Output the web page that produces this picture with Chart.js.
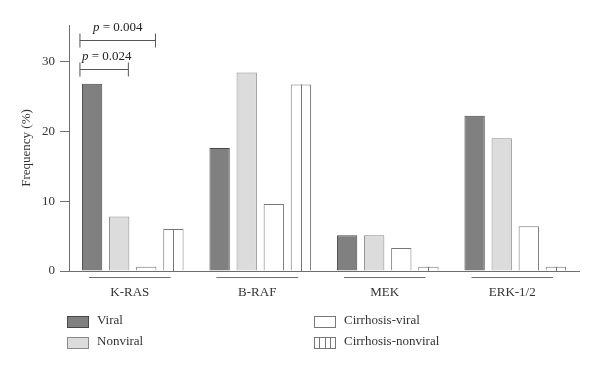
<!DOCTYPE html>
<html>
<head>
<meta charset="utf-8">
<script src="https://cdn.jsdelivr.net/npm/chart.js@4.4.1/dist/chart.umd.min.js"></script>
<style>
  body { margin: 0; background: #fff; }
  #wrap { width: 600px; height: 370px; }
</style>
</head>
<body>
<div id="wrap"><canvas id="chart" width="600" height="370"></canvas></div>
<script>
// the numbers
var categories = ['K-RAS', 'B-RAF', 'MEK', 'ERK-1/2'];
var seriesNames = ['Viral', 'Nonviral', 'Cirrhosis-viral', 'Cirrhosis-nonviral'];
var viral = [26.8, 17.6, 5.1, 22.2];
var nonviral = [7.8, 28.4, 5.1, 19.0];
var cirrhosisViral = [0.6, 9.6, 3.3, 6.4];
var cirrhosisNonviral = [6.0, 26.7, 0.6, 0.6];
var yTicks = [0, 10, 20, 30];
var pValues = ['0.024', '0.004'];
var yTitle = 'Frequency (%)';

var serif = '"Liberation Serif", "DejaVu Serif", serif';
var axisGrey = '#6e6e6e';

var fills = ['#808080', '#dcdcdc', '#ffffff', '#ffffff'];
var borders = ['#484848', '#8a8a8a', '#777777', '#777777'];
var allValues = [viral, nonviral, cirrhosisViral, cirrhosisNonviral];

var theDatasets = [];
for (var i = 0; i < seriesNames.length; i++) {
  theDatasets.push({
    label: seriesNames[i],
    data: allValues[i],
    backgroundColor: fills[i],
    borderColor: borders[i],
    borderWidth: 1,
    categoryPercentage: 0.85,
    barPercentage: 0.75
  });
}

// stripes in the cirrhosis-nonviral bars, underlines, p brackets, legend
var extrasPlugin = {
  id: 'extras',
  afterDatasetsDraw: function (chart) {
    var ctx = chart.ctx;
    var yScale = chart.scales.y;
    var base = yScale.getPixelForValue(0);
    ctx.save();
    ctx.strokeStyle = borders[3];
    ctx.lineWidth = 1;
    chart.getDatasetMeta(3).data.forEach(function (bar) {
      var x = Math.round(bar.x) + 0.5;
      ctx.beginPath();
      ctx.moveTo(x, bar.y);
      ctx.lineTo(x, base);
      ctx.stroke();
    });
    ctx.restore();
  },
  afterDraw: function (chart) {
    var ctx = chart.ctx;
    var xScale = chart.scales.x;
    var yScale = chart.scales.y;
    var area = chart.chartArea;
    ctx.save();

    // y axis title
    ctx.save();
    ctx.translate(27, (area.top + area.bottom) / 2);
    ctx.rotate(-Math.PI / 2);
    ctx.font = '13px ' + serif;
    ctx.fillStyle = '#333';
    ctx.textAlign = 'center';
    ctx.textBaseline = 'middle';
    ctx.fillText(yTitle, 0, 0);
    ctx.restore();

    // line under each group
    ctx.strokeStyle = axisGrey;
    ctx.lineWidth = 1;
    var catW = (area.right - area.left) / categories.length;
    for (var c = 0; c < categories.length; c++) {
      var cx = xScale.getPixelForValue(c) - 3;
      ctx.beginPath();
      ctx.moveTo(cx - catW * 0.32, 277.5);
      ctx.lineTo(cx + catW * 0.32, 277.5);
      ctx.stroke();
    }

    // p value brackets on K-RAS
    var first = chart.getDatasetMeta(0).data[0];
    var left = first.x - first.width / 2 - 2;
    var ends = [chart.getDatasetMeta(1).data[0], chart.getDatasetMeta(2).data[0]];
    var levels = [28.9, 33.0];
    for (var b = 0; b < 2; b++) {
      var right = ends[b].x + ends[b].width / 2 - 1;
      var y = Math.round(yScale.getPixelForValue(levels[b])) + 0.5;
      ctx.strokeStyle = '#555';
      ctx.beginPath();
      ctx.moveTo(left, y);
      ctx.lineTo(right, y);
      ctx.moveTo(left, y - 7);
      ctx.lineTo(left, y + 7);
      ctx.moveTo(right, y - 7);
      ctx.lineTo(right, y + 7);
      ctx.stroke();

      ctx.fillStyle = '#222';
      ctx.textBaseline = 'alphabetic';
      ctx.font = 'italic 13px ' + serif;
      var pw = ctx.measureText('p').width;
      ctx.font = '13px ' + serif;
      var rest = ' = ' + pValues[b];
      var rw = ctx.measureText(rest).width;
      var tx = (left + right) / 2 - (pw + rw) / 2;
      if (b === 0) tx = left + 2;
      ctx.font = 'italic 13px ' + serif;
      ctx.textAlign = 'left';
      ctx.fillText('p', tx, y - 10);
      ctx.font = '13px ' + serif;
      ctx.fillText(rest, tx + pw, y - 10);
    }

    // legend, two columns
    var cols = [67, 314];
    var rows = [316, 337];
    ctx.font = '13px ' + serif;
    ctx.textBaseline = 'middle';
    ctx.textAlign = 'left';
    for (var k = 0; k < seriesNames.length; k++) {
      var lx = cols[Math.floor(k / 2)];
      var ly = rows[k % 2];
      ctx.fillStyle = fills[k];
      ctx.fillRect(lx + 0.5, ly + 0.5, 21, 11);
      ctx.strokeStyle = borders[k];
      ctx.strokeRect(lx + 0.5, ly + 0.5, 21, 11);
      if (k === 3) {
        ctx.beginPath();
        for (var s = 1; s < 4; s++) {
          var sx = Math.round(lx + 21 * s / 4) + 0.5;
          ctx.moveTo(sx, ly + 0.5);
          ctx.lineTo(sx, ly + 11.5);
        }
        ctx.stroke();
      }
      ctx.fillStyle = '#333';
      ctx.fillText(seriesNames[k], lx + 30, ly + 5);
    }
    ctx.restore();
  }
};

var chartCtx = document.getElementById('chart').getContext('2d');
var theChart = new Chart(chartCtx, {
  type: 'bar',
  data: {
    labels: categories,
    datasets: theDatasets
  },
  options: {
    responsive: false,
    animation: false,
    layout: {
      padding: { top: 25, right: 21, bottom: 59, left: 0 }
    },
    plugins: {
      legend: { display: false },
      tooltip: { enabled: false }
    },
    scales: {
      x: {
        grid: { display: false },
        border: { display: true, color: axisGrey, width: 1 },
        ticks: {
          color: '#333',
          font: { family: serif, size: 13 },
          padding: 6,
          labelOffset: -3
        },
        afterFit: function (scale) { scale.height = 40; }
      },
      y: {
        min: 0,
        max: 35.2,
        afterBuildTicks: function (scale) {
          scale.ticks = yTicks.map(function (v) { return { value: v }; });
        },
        grid: {
          drawOnChartArea: false,
          drawTicks: true,
          tickLength: 9,
          color: axisGrey
        },
        border: { display: true, color: axisGrey, width: 1 },
        ticks: {
          color: '#333',
          font: { family: serif, size: 13 },
          padding: 5
        },
        afterFit: function (scale) { scale.width = 69; }
      }
    }
  },
  plugins: [extrasPlugin]
});
</script>
</body>
</html>
